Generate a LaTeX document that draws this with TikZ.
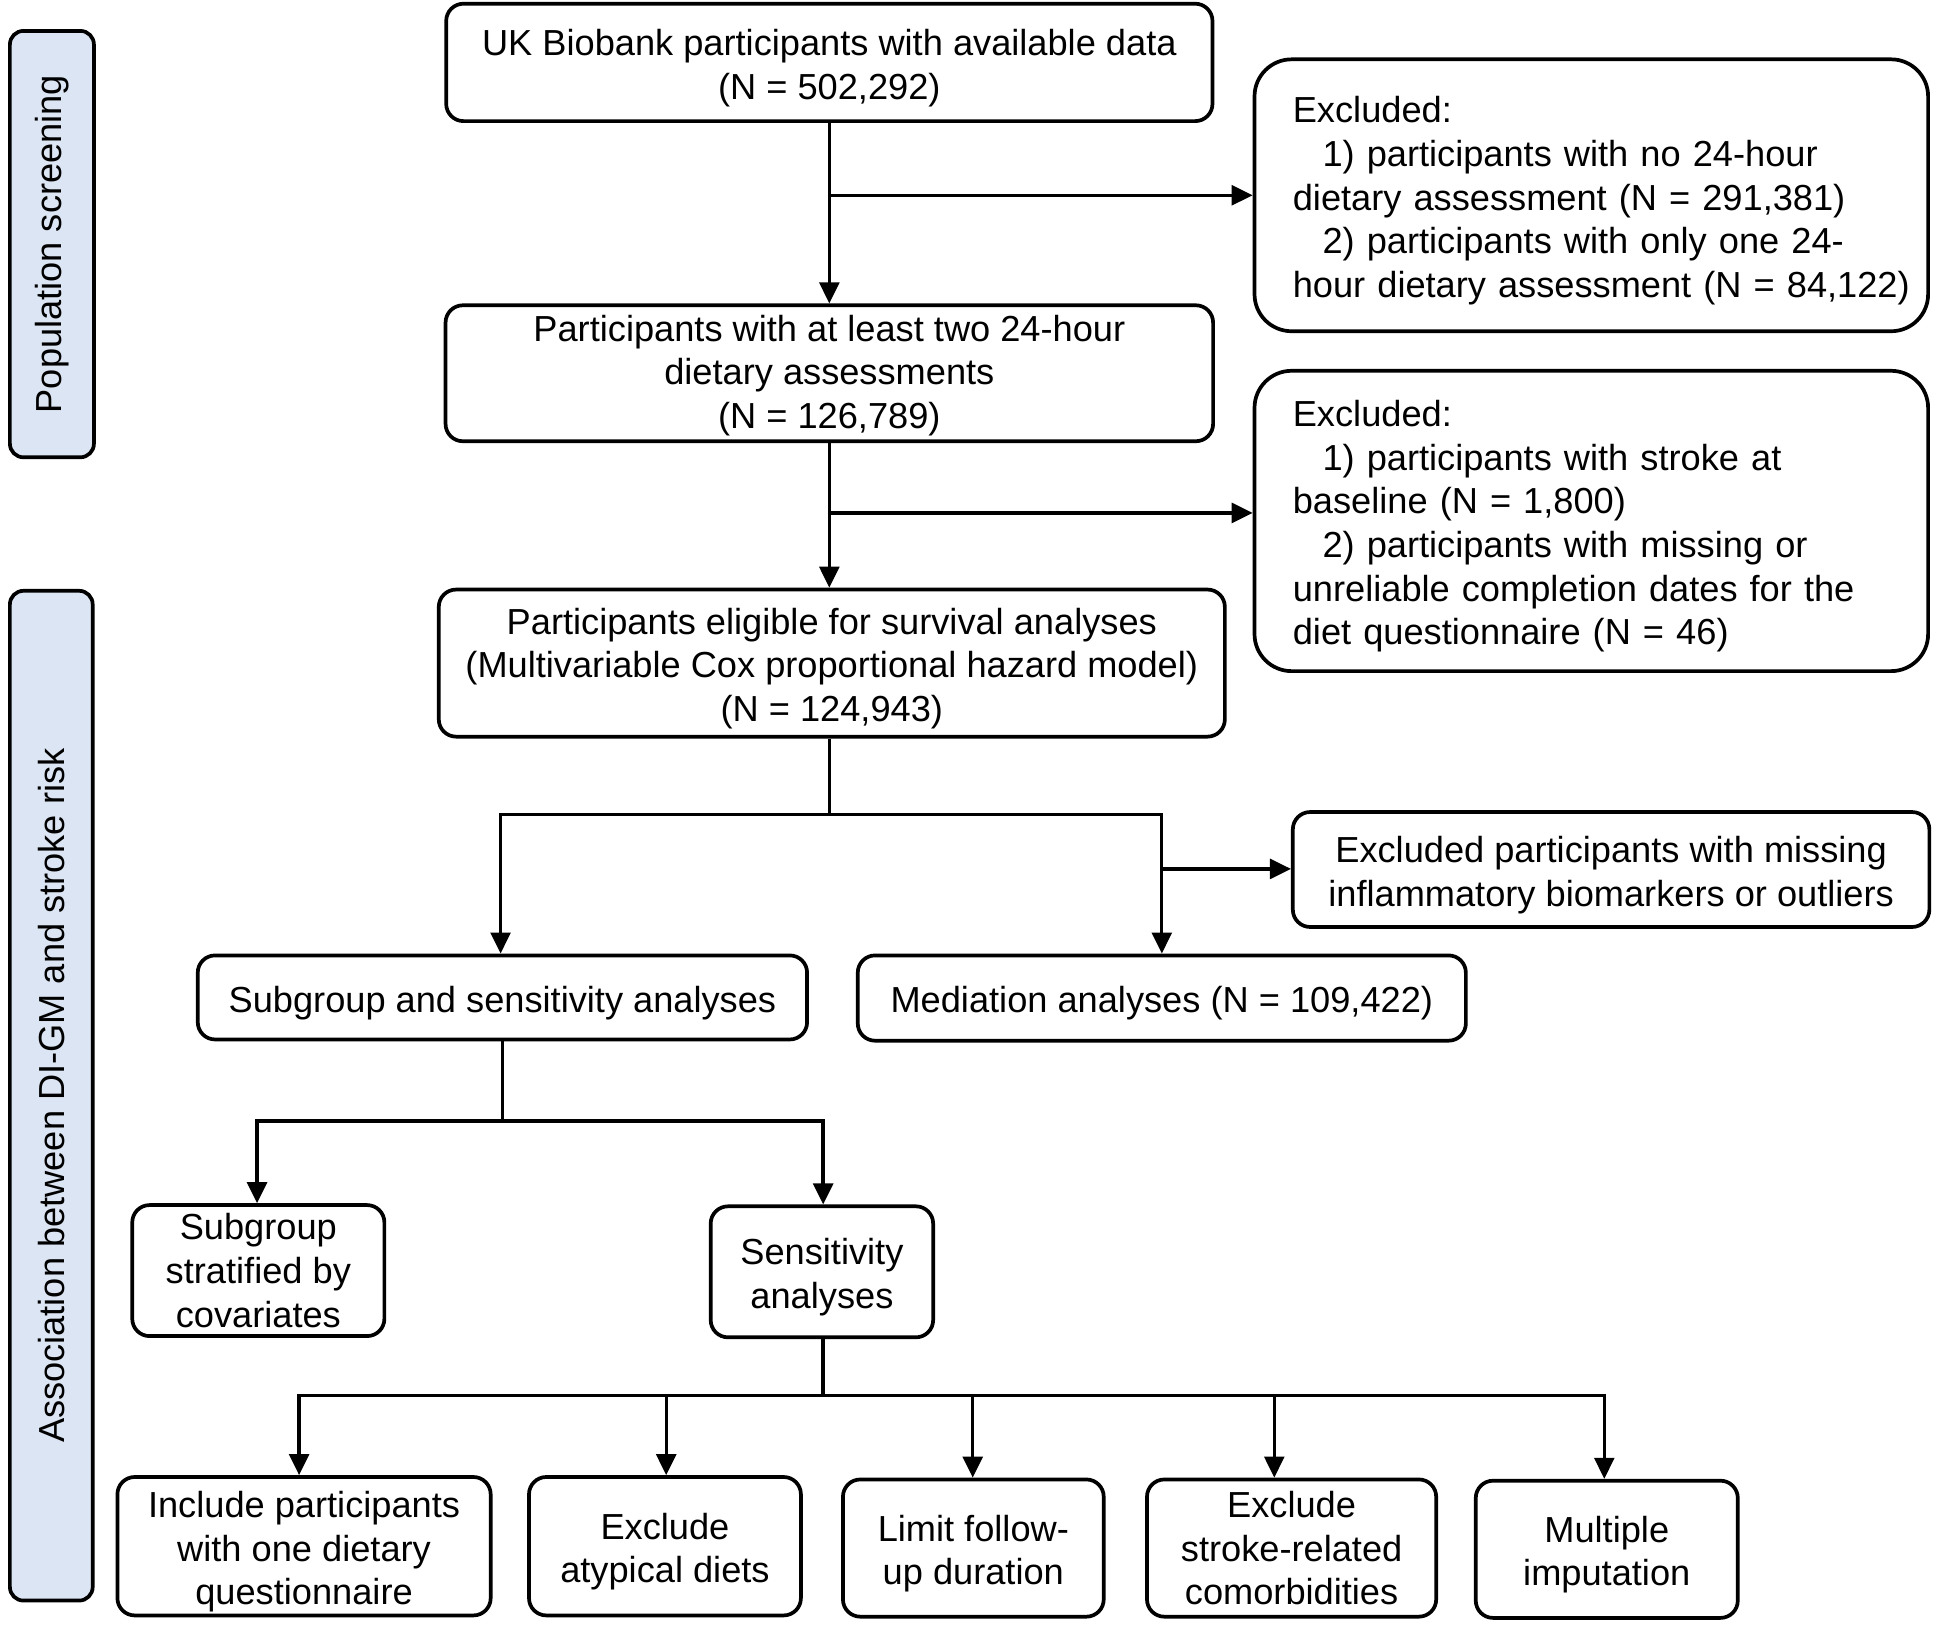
\documentclass[tikz,border=0pt]{standalone}
\usepackage{fontspec}
\setmainfont{Liberation Sans}
\usetikzlibrary{arrows.meta}
\definecolor{labelblue}{RGB}{220,229,243}
\newcommand\firstst{\rule{0pt}{30pt}}
\begin{document}
\begin{tikzpicture}[x=1pt,y=-1pt,
  font=\fontsize{29.3}{35.3}\selectfont,
  box/.style={draw, line width=3pt, rounded corners=14pt, align=center, inner sep=0pt,
    execute at begin node={\firstst}},
  exbox/.style={box, rounded corners=30pt, align=left, text width=483pt, inner xsep=31pt},
  sidebox/.style={draw, line width=3pt, rounded corners=11pt, fill=labelblue, inner sep=0pt, rotate=90},
  arr/.style={line width=2.7pt, -{Triangle[length=17pt,width=16pt]}},
  ln/.style={line width=2.7pt}]
\useasboundingbox (0,0) rectangle (1568,1317);

% side labels
\node[sidebox, minimum width=345pt, minimum height=68pt] (ps) at (42,197.5) {Population screening};
\node[sidebox, minimum width=817pt, minimum height=67pt] (as) at (41.5,886.5) {Association between DI-GM and stroke risk};

% main column
\node[box, minimum width=620pt, minimum height=95pt] (uk) at (671,50.5)
  {\firstst UK Biobank participants with available data\\(N = 502,292)};
\node[exbox, minimum width=545pt, minimum height=220pt] (ex1) at (1287.5,158)
  {\mbox{\firstst Excluded:}\\\mbox{\hspace*{24pt}1) participants with no 24-hour}\\\mbox{dietary assessment (N = 291,381)}\\\mbox{\hspace*{24pt}2) participants with only one 24-}\\\mbox{hour dietary assessment (N = 84,122)}};
\node[box, minimum width=621pt, minimum height=110pt] (two) at (671,302)
  {\rule{0pt}{25pt}Participants with at least two 24-hour\\dietary assessments\\(N = 126,789)};
\node[exbox, minimum width=545pt, minimum height=243pt] (ex2) at (1287.5,421.5)
  {\mbox{\firstst Excluded:}\\\mbox{\hspace*{24pt}1) participants with stroke at}\\\mbox{baseline (N = 1,800)}\\\mbox{\hspace*{24pt}2) participants with missing or}\\\mbox{unreliable completion dates for the}\\\mbox{diet questionnaire (N = 46)}};
\node[box, minimum width=636pt, minimum height=119pt] (elig) at (673,536.5)
  {\firstst Participants eligible for survival analyses\\(Multivariable Cox proportional hazard model)\\(N = 124,943)};
\node[box, minimum width=515pt, minimum height=93pt] (ex3) at (1303.5,703.5)
  {\firstst Excluded participants with missing\\inflammatory biomarkers or outliers};
\node[box, minimum width=493pt, minimum height=68pt] (sub) at (406.5,807)
  {Subgroup and sensitivity analyses};
\node[box, minimum width=492pt, minimum height=69pt] (med) at (940,807.5)
  {Mediation analyses (N = 109,422)};
\node[box, minimum width=204pt, minimum height=106pt] (strat) at (209,1028)
  {Subgroup\\stratified by\\covariates};
\node[box, minimum width=180pt, minimum height=106pt] (sens) at (665,1029)
  {\firstst Sensitivity\\analyses};
\node[box, minimum width=302pt, minimum height=112pt] (c1) at (246,1251)
  {\firstst Include participants\\with one dietary\\questionnaire};
\node[box, minimum width=220pt, minimum height=112pt] (c2) at (538,1251)
  {\firstst Exclude\\atypical diets};
\node[box, minimum width=211pt, minimum height=111pt] (c3) at (787.5,1252.5)
  {\firstst Limit follow-\\up duration};
\node[box, minimum width=234pt, minimum height=111pt] (c4) at (1045,1252.5)
  {Exclude\\stroke-related\\comorbidities};
\node[box, minimum width=212pt, minimum height=111pt] (c5) at (1300,1253.5)
  {\firstst Multiple\\imputation};

% connectors
\coordinate (j1) at (671,158);
\coordinate (j2) at (671,415);
\coordinate (j3) at (671,659);
\coordinate (j3l) at (405,659);
\coordinate (j3r) at (940,659);
\coordinate (j4) at (940,703);
\draw[arr] (uk.south) -- (uk.south |- two.north);
\draw[arr] (j1) -- (j1 -| ex1.west);
\draw[arr] (two.south) -- (two.south |- elig.north);
\draw[arr] (j2) -- (j2 -| ex2.west);
\draw[ln] (j2 |- elig.south) -- (j3);
\draw[arr] (j3) -| (j3l |- sub.north);
\draw[arr] (j3) -| (j3r |- med.north);
\draw[arr] (j4) -- (j4 -| ex3.west);

\coordinate (j5) at (sub.south |- 0,907);
\coordinate (k1) at (208,907);
\coordinate (k2) at (666,907);
\draw[ln] (sub.south) -- (j5);
\draw[arr] (j5) -| (k1 |- strat.north);
\draw[arr] (j5) -| (k2 |- sens.north);

\coordinate (j6) at (k2 |- 0,1129);
\coordinate (t1) at (242,1129);
\coordinate (t2) at (539,1129);
\coordinate (t3) at (787,1129);
\coordinate (t4) at (1031,1129);
\coordinate (t5) at (1298,1129);
\draw[ln] (k2 |- sens.south) -- (j6);
\draw[arr] (j6) -| (t1 |- c1.north);
\draw[arr] (t1) -| (t2 |- c2.north);
\draw[arr] (j6) -| (t3 |- c3.north);
\draw[arr] (t3) -| (t4 |- c4.north);
\draw[arr] (t4) -| (t5 |- c5.north);
\end{tikzpicture}
\end{document}
